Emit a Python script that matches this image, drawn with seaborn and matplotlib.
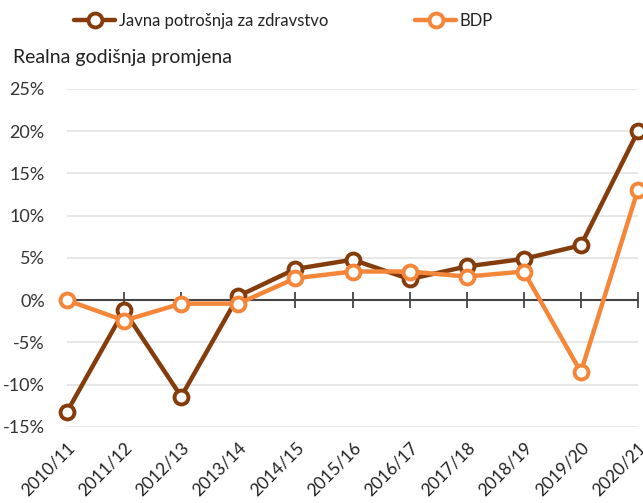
import matplotlib
matplotlib.use("Agg")
import matplotlib.pyplot as plt
import seaborn as sns
import pandas as pd

categories = ["2010/11", "2011/12", "2012/13", "2013/14", "2014/15", "2015/16",
              "2016/17", "2017/18", "2018/19", "2019/20", "2020/21"]
health = [-13.2, -1.2, -11.4, 0.5, 3.7, 4.8, 2.5, 4.0, 4.9, 6.5, 20.0]
gdp = [0.0, -2.4, -0.4, -0.4, 2.6, 3.4, 3.4, 2.8, 3.4, -8.5, 13.1]
series_names = ["Javna potrošnja za zdravstvo", "BDP"]
series_colors = ["#843C0C", "#F4863A"]
yticks = [-15, -10, -5, 0, 5, 10, 15, 20, 25]

sns.set_theme(style="white")
plt.rcParams["font.family"] = ["Lato", "DejaVu Sans"]

fig = plt.figure(figsize=(6.43, 5.03), dpi=100)
ax = fig.add_axes([67 / 643, 1 - 427 / 503, (638 - 67) / 643, (427 - 89) / 503])

xpos = list(range(len(categories)))
for name, vals, col in zip(series_names, [health, gdp], series_colors):
    d = pd.DataFrame({"x": xpos, "val": vals})
    sns.lineplot(data=d, x="x", y="val", ax=ax, color=col, label=name,
                 marker="o", markersize=10, markerfacecolor="white",
                 markeredgecolor=col, markeredgewidth=2.8,
                 linewidth=3.2, sort=False, clip_on=False, zorder=3)

ax.set_xlim(0, len(categories) - 1)
ax.set_ylim(-15, 25)
ax.set_yticks(yticks)
ax.set_yticklabels([f"{t}%" for t in yticks], fontsize=13, color="#333333")
ax.set_xticks(xpos)
ax.set_xticklabels(categories, rotation=45, ha="right", rotation_mode="anchor",
                   fontsize=12.5, color="#222222")
ax.tick_params(axis="x", length=0, pad=9)
ax.tick_params(axis="y", length=0, pad=16)
ax.set_xlabel("")
ax.set_ylabel("")
for s in ax.spines.values():
    s.set_visible(False)
ax.yaxis.grid(True, color="#e3e3e3", linewidth=1.2)
ax.xaxis.grid(False)
ax.set_axisbelow(True)

# zero line with tick marks
ax.axhline(0, color="#444444", linewidth=1.5, zorder=2)
ax.plot(xpos, [0] * len(categories), linestyle="none",
        marker="|", markersize=11, markeredgewidth=1.3, color="#444444", zorder=2,
        clip_on=False)

leg = ax.legend(loc="upper left", bbox_to_anchor=(0.0, 1.245), ncol=2, frameon=False,
                fontsize=12, handlelength=2.5, handletextpad=0.2, columnspacing=5.2,
                borderaxespad=0)
for t in leg.get_texts():
    t.set_color("#222222")

fig.text(13 / 643, 1 - 57 / 503, "Realna godišnja promjena", fontsize=14,
         color="#222222", va="center", ha="left")

fig.savefig("out.png", dpi=100)
